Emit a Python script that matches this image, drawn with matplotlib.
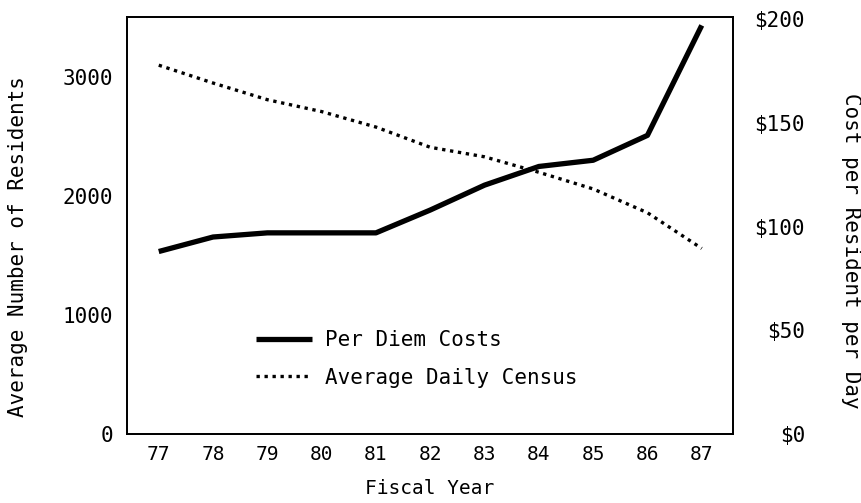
import matplotlib
matplotlib.use('Agg')
import matplotlib.pyplot as plt

years = [77, 78, 79, 80, 81, 82, 83, 84, 85, 86, 87]
census = [3100, 2950, 2810, 2710, 2580, 2410, 2330, 2200, 2060, 1860, 1560]
per_diem = [88, 95, 97, 97, 97, 108, 120, 129, 132, 144, 197]

left_ticks = [0, 1000, 2000, 3000]
right_ticks = [0, 50, 100, 150, 200]
right_labels = ['$0', '$50', '$100', '$150', '$200']

plt.rcParams['font.family'] = 'DejaVu Sans Mono'

fig = plt.figure(figsize=(8.62, 5.03), dpi=100)
ax = fig.add_axes([0.147, 0.137, 0.703, 0.829])
ax2 = ax.twinx()

l2, = ax.plot(years, census, color='black', lw=2.4, linestyle=(0, (1, 1.4)),
              label='Average Daily Census')
l1, = ax2.plot(years, per_diem, color='black', lw=3.8, solid_capstyle='butt',
               label='Per Diem Costs')

ax.set_xlim(76.41, 87.57)
ax.set_ylim(0, 3504)
ax2.set_ylim(0, 201)

ax.set_xticks(years)
ax.set_xticklabels([str(y) for y in years], fontsize=14)
ax.set_yticks(left_ticks)
ax.set_yticklabels([str(t) for t in left_ticks], fontsize=15)
ax2.set_yticks(right_ticks)
ax2.set_yticklabels(right_labels, fontsize=15)
for lbl in ax2.get_yticklabels():
    lbl.set_horizontalalignment('right')

ax.tick_params(axis='x', length=0, pad=8)
ax.tick_params(axis='y', length=0, pad=10)
ax2.tick_params(axis='y', length=0, pad=52)

for a in (ax, ax2):
    for s in a.spines.values():
        s.set_linewidth(1.3)

ax.set_xlabel('Fiscal Year', fontsize=14)
ax.xaxis.set_label_coords(0.5, -0.108)
ax.set_ylabel('Average Number of Residents', fontsize=15)
ax.yaxis.set_label_coords(-0.163, 0.45)
ax2.set_ylabel('Cost per Resident per Day', fontsize=15, rotation=270, va='center')
ax2.yaxis.set_label_coords(1.195, 0.44)

ax2.legend([l1, l2], ['Per Diem Costs', 'Average Daily Census'],
           loc='upper left', bbox_to_anchor=(0.2, 0.27), frameon=False,
           fontsize=15, handlelength=2.7, handletextpad=0.6, labelspacing=0.85,
           borderaxespad=0)

fig.savefig('out.png', dpi=100)
